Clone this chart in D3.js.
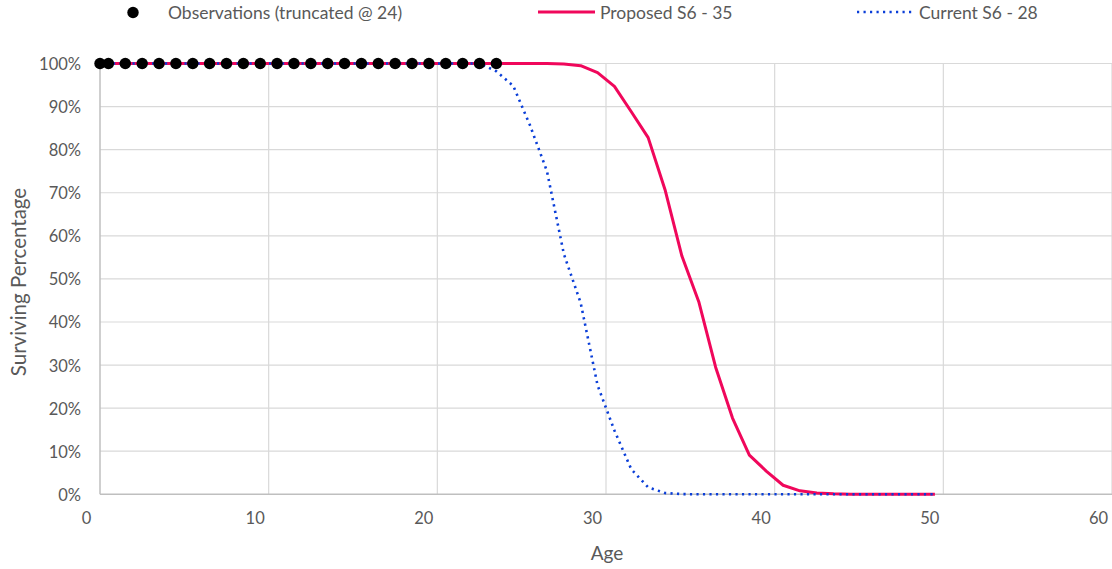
<!DOCTYPE html>
<html>
<head>
<meta charset="utf-8">
<script src="https://cdn.jsdelivr.net/npm/d3@7"></script>
<style>
  html, body { margin: 0; padding: 0; background: #fff; }
  svg { display: block; font-family: Lato, "Open Sans", sans-serif; }
</style>
</head>
<body>
<svg id="chart" width="1112" height="569"></svg>
<script>
// ---- data ----
const ages = [0, 0.5, 1.5, 2.5, 3.5, 4.5, 5.5, 6.5, 7.5, 8.5, 9.5, 10.5, 11.5, 12.5, 13.5, 14.5, 15.5, 16.5, 17.5, 18.5, 19.5,
  20.5, 21.5, 22.5, 23.5, 24.5, 25.5, 26.5, 27.5, 28.5, 29.5, 30.5, 31.5, 32.5, 33.5, 34.5, 35.5, 36.5, 37.5, 38.5, 39.5,
  40.5, 41.5, 42.5, 43.5, 44.5, 45.5, 46.5, 47.5, 48.5, 49.5];
const proposed = [100, 100, 100, 100, 100, 100, 100, 100, 100, 100, 100, 100, 100, 100, 100, 100, 100, 100, 100, 100, 100,
  100, 100, 100, 100, 100, 100, 99.98, 99.9, 99.5, 97.9, 94.7, 88.8, 82.8, 70.7, 55.3, 44.7, 29.5, 17.7, 9.1, 5.4,
  2.1, 0.8, 0.3, 0.1, 0.03, 0.01, 0, 0, 0, 0];
const current = [100, 100, 100, 100, 100, 100, 100, 100, 100, 100, 100, 100, 100, 100, 100, 100, 100, 100, 100, 100, 100,
  100, 100, 100, 98.2, 94.8, 85.6, 75.0, 55.8, 44.4, 25.3, 14.8, 5.8, 1.6, 0.3, 0.05, 0, 0, 0, 0, 0,
  0, 0, 0, 0, 0, 0, 0, 0, 0, 0];
const obsAges = [0, 0.5, 1.5, 2.5, 3.5, 4.5, 5.5, 6.5, 7.5, 8.5, 9.5, 10.5, 11.5, 12.5, 13.5, 14.5, 15.5, 16.5, 17.5, 18.5,
  19.5, 20.5, 21.5, 22.5, 23.5];
const obsValues = obsAges.map(() => 100);
const xTicks = [0, 10, 20, 30, 40, 50, 60];
const yTicks = [0, 10, 20, 30, 40, 50, 60, 70, 80, 90, 100];
const seriesNames = ["Observations (truncated @ 24)", "Proposed S6 - 35", "Current S6 - 28"];

// ---- layout ----
const svg = d3.select("#chart");
const plotLeft = 100, plotRight = 1112, plotTop = 63.5, plotBottom = 494.3;
const x = d3.scaleLinear().domain([0, 60]).range([plotLeft, plotRight]);
const y = d3.scaleLinear().domain([0, 100]).range([plotBottom, plotTop]);
const textColor = "#595959";
const pink = "#F0075B", blue = "#0A3ED8";

// gridlines
svg.append("g").selectAll("line").data(yTicks.filter(d => d > 0)).join("line")
  .attr("x1", plotLeft).attr("x2", plotRight).attr("y1", d => y(d)).attr("y2", d => y(d))
  .attr("stroke", "#D9D9D9").attr("stroke-width", 1.2);
svg.append("g").selectAll("line").data(xTicks.filter(d => d > 0)).join("line")
  .attr("x1", d => x(d)).attr("x2", d => x(d)).attr("y1", plotTop).attr("y2", plotBottom)
  .attr("stroke", "#D9D9D9").attr("stroke-width", 1.2);

// axes lines
svg.append("line").attr("x1", plotLeft).attr("x2", plotLeft).attr("y1", plotTop).attr("y2", plotBottom)
  .attr("stroke", "#BFBFBF").attr("stroke-width", 1.5);
svg.append("line").attr("x1", plotLeft).attr("x2", plotRight).attr("y1", plotBottom).attr("y2", plotBottom)
  .attr("stroke", "#BFBFBF").attr("stroke-width", 1.5);

// y tick labels
const yAxis = d3.axisLeft(y).tickValues(yTicks).tickFormat(d => d + "%").tickSize(0).tickPadding(19);
const gy = svg.append("g").attr("transform", `translate(${plotLeft},0)`).call(yAxis);
gy.select(".domain").remove();
gy.selectAll("text").attr("font-size", 16.5).attr("fill", textColor).attr("font-family", "Lato, sans-serif").attr("dy", "0.36em");

// x tick labels (shifted left as in reference)
const xAxis = d3.axisBottom(x).tickValues(xTicks).tickFormat(d3.format("d")).tickSize(0).tickPadding(18);
const gx = svg.append("g").attr("transform", `translate(0,${plotBottom})`).call(xAxis);
gx.select(".domain").remove();
gx.selectAll("text").attr("font-size", 16.5).attr("fill", textColor).attr("font-family", "Lato, sans-serif")
  .attr("dx", -14).attr("dy", "0.72em");

// axis titles
svg.append("text").attr("x", 607).attr("y", 560).attr("text-anchor", "middle")
  .attr("font-size", 19).attr("fill", textColor).text("Age");
svg.append("text").attr("transform", "translate(25.5,282) rotate(-90)").attr("text-anchor", "middle")
  .attr("font-size", 20.5).attr("fill", textColor).text("Surviving Percentage");

// lines
const line = d3.line().x((d, i) => x(ages[i])).y(d => y(d));
svg.append("path").datum(proposed).attr("d", line).attr("fill", "none")
  .attr("stroke", pink).attr("stroke-width", 3).attr("stroke-linejoin", "round");
svg.append("path").datum(current).attr("d", line).attr("fill", "none")
  .attr("stroke", blue).attr("stroke-width", 2.6).attr("stroke-dasharray", "2.2,4.3");

// observation dots
svg.append("g").selectAll("circle").data(obsValues).join("circle")
  .attr("cx", (d, i) => x(obsAges[i])).attr("cy", d => y(d)).attr("r", 5.7).attr("fill", "#000");

// legend
const lg = svg.append("g");
lg.append("circle").attr("cx", 133).attr("cy", 12.5).attr("r", 5.7).attr("fill", "#000");
lg.append("text").attr("x", 168).attr("y", 19).attr("font-size", 17.5).attr("fill", textColor).text(seriesNames[0]);
lg.append("line").attr("x1", 538).attr("x2", 595).attr("y1", 12).attr("y2", 12)
  .attr("stroke", pink).attr("stroke-width", 3);
lg.append("text").attr("x", 600).attr("y", 19).attr("font-size", 17.5).attr("fill", textColor).text(seriesNames[1]);
lg.append("line").attr("x1", 857).attr("x2", 912).attr("y1", 12).attr("y2", 12)
  .attr("stroke", blue).attr("stroke-width", 2.6).attr("stroke-dasharray", "2.2,4.3");
lg.append("text").attr("x", 919).attr("y", 19).attr("font-size", 17.5).attr("fill", textColor).text(seriesNames[2]);
</script>
</body>
</html>
